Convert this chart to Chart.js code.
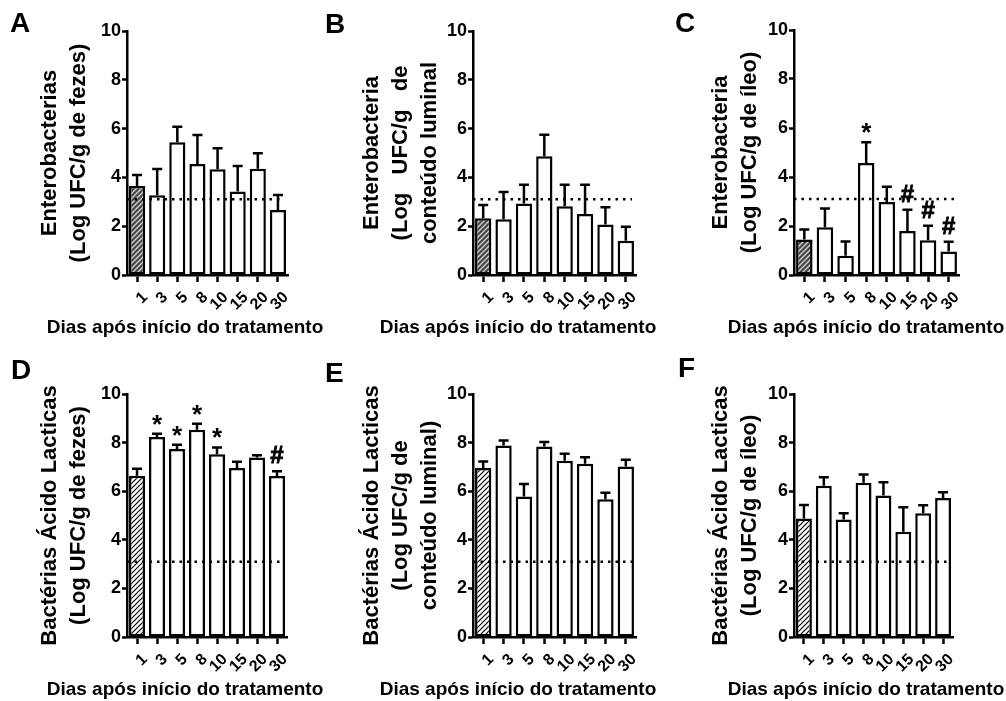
<!DOCTYPE html>
<html>
<head>
<meta charset="utf-8">
<script src="https://cdn.jsdelivr.net/npm/chart.js@4.4.0/dist/chart.umd.min.js"></script>
<style>
  html, body { margin: 0; padding: 0; background: #fff; }
  #wrap { position: relative; width: 1006px; height: 701px; }
  #wrap canvas { position: absolute; left: 0; top: 0; width: 1006px; height: 701px; }
</style>
</head>
<body>
<div id="wrap">
  <canvas id="cA" width="1006" height="701"></canvas>
  <canvas id="cB" width="1006" height="701"></canvas>
  <canvas id="cC" width="1006" height="701"></canvas>
  <canvas id="cD" width="1006" height="701"></canvas>
  <canvas id="cE" width="1006" height="701"></canvas>
  <canvas id="cF" width="1006" height="701"></canvas>
</div>
<script>
// days after start of treatment
const days = ['1', '3', '5', '8', '10', '15', '20', '30'];
const yTicks = [0, 2, 4, 6, 8, 10];
const detectionLimit = 3.1;

// Enterobacteria - feces / luminal content / ileum (mean and SEM)
const entFezes = [3.65, 3.27, 5.44, 4.55, 4.33, 3.42, 4.35, 2.66];
const entFezesSem = [0.45, 1.07, 0.64, 1.19, 0.86, 1.05, 0.64, 0.62];
const entLuminal = [2.33, 2.28, 2.93, 4.87, 2.82, 2.50, 2.07, 1.40];
const entLuminalSem = [0.54, 1.12, 0.77, 0.88, 0.88, 1.20, 0.71, 0.58];
const entIleo = [1.45, 1.95, 0.79, 4.57, 2.98, 1.80, 1.42, 0.96];
const entIleoSem = [0.41, 0.76, 0.58, 0.85, 0.62, 0.86, 0.59, 0.40];

// lactic acid bacteria
const labFezes = [6.64, 8.23, 7.74, 8.53, 7.52, 6.95, 7.39, 6.63];
const labFezesSem = [0.28, 0.13, 0.17, 0.25, 0.28, 0.26, 0.09, 0.19];
const labLuminal = [6.95, 7.88, 5.78, 7.84, 7.25, 7.13, 5.67, 7.02];
const labLuminalSem = [0.27, 0.21, 0.52, 0.18, 0.29, 0.27, 0.27, 0.27];
const labIleo = [4.88, 6.22, 4.84, 6.35, 5.82, 4.33, 5.09, 5.72];
const labIleoSem = [0.55, 0.35, 0.25, 0.34, 0.55, 1.01, 0.33, 0.24];

// significance marks
const marksC = ['', '', '', '*', '', '#', '#', '#'];
const marksD = ['', '*', '*', '*', '*', '', '', '#'];
const noMarks = ['', '', '', '', '', '', '', ''];

const FONT = "'Liberation Sans', Arial, sans-serif";
const xTitle = 'Dias após início do tratamento';

function hatch(bg, fg, w) {
  const c = document.createElement('canvas');
  c.width = 5; c.height = 5;
  const g = c.getContext('2d');
  g.fillStyle = bg;
  g.fillRect(0, 0, 5, 5);
  g.strokeStyle = fg;
  g.lineWidth = w;
  g.beginPath();
  g.moveTo(-1, 6); g.lineTo(6, -1);
  g.moveTo(-1, 1); g.lineTo(1, -1);
  g.moveTo(4, 6); g.lineTo(6, 4);
  g.stroke();
  return g.createPattern(c, 'repeat');
}

function deco(p) {
  return {
    id: 'deco',
    afterDatasetsDraw(chart) {
      const ctx = chart.ctx;
      const y = chart.scales.y;
      const area = chart.chartArea;
      const bars = chart.getDatasetMeta(0).data;
      ctx.save();
      // error bars (upper only)
      ctx.strokeStyle = '#000';
      ctx.lineWidth = 2.5;
      bars.forEach((bar, i) => {
        const top = y.getPixelForValue(p.values[i] + p.sem[i]);
        ctx.beginPath();
        ctx.moveTo(bar.x, bar.y);
        ctx.lineTo(bar.x, top);
        ctx.moveTo(bar.x - 5, top);
        ctx.lineTo(bar.x + 5, top);
        ctx.stroke();
      });
      // detection limit
      const ly = y.getPixelForValue(detectionLimit);
      ctx.setLineDash([2.5, 5]);
      ctx.beginPath();
      ctx.moveTo(area.left, ly);
      ctx.lineTo(area.right - 4, ly);
      ctx.stroke();
      ctx.setLineDash([]);
      // marks
      ctx.fillStyle = '#000';
      ctx.strokeStyle = '#000';
      ctx.lineWidth = 0.8;
      ctx.textAlign = 'center';
      ctx.textBaseline = 'alphabetic';
      bars.forEach((bar, i) => {
        const m = p.marks[i];
        if (!m) return;
        const top = y.getPixelForValue(p.values[i] + p.sem[i]);
        if (m === '*') {
          ctx.font = 'bold 26px ' + FONT;
          ctx.fillText(m, bar.x, top - 1);
        } else {
          ctx.font = 'bold 24px ' + FONT;
          ctx.fillText(m, bar.x, top - 8);
          ctx.strokeText(m, bar.x, top - 8);
        }
      });
      ctx.restore();
    },
    afterDraw(chart) {
      const ctx = chart.ctx;
      ctx.save();
      ctx.fillStyle = '#000';
      ctx.textBaseline = 'alphabetic';
      ctx.textAlign = 'left';
      ctx.font = 'bold 28px ' + FONT;
      ctx.fillText(p.letter, p.letterX, p.letterY);
      ctx.textAlign = 'center';
      ctx.textBaseline = 'middle';
      ctx.font = 'bold 19px ' + FONT;
      ctx.fillText(xTitle, p.xTitleX, p.xTitleY);
      ctx.restore();
    }
  };
}

function panel(id, p) {
  const ctx = document.getElementById(id).getContext('2d');
  const fill = days.map((d, i) => i === 0 ? p.hatch : '#ffffff');
  return new Chart(ctx, {
    type: 'bar',
    data: {
      labels: days,
      datasets: [{
        data: p.values,
        backgroundColor: fill,
        borderColor: '#000',
        borderWidth: 2.5,
        borderSkipped: false,
        barPercentage: 0.8,
        categoryPercentage: 1
      }]
    },
    options: {
      responsive: false,
      animation: false,
      events: [],
      layout: {
        padding: { left: p.padLeft, top: p.top, right: 1006 - p.right, bottom: 701 - p.bottom - 45 }
      },
      plugins: { legend: { display: false }, tooltip: { enabled: false } },
      scales: {
        x: {
          offset: true,
          grid: { display: true, offset: false, drawOnChartArea: false, drawTicks: true, tickLength: 7, tickColor: '#000', tickWidth: 2.5 },
          border: { display: true, color: '#000', width: 2.5 },
          ticks: {
            autoSkip: false, minRotation: 45, maxRotation: 45, color: '#000', padding: 6, labelOffset: 8,
            font: { family: FONT, size: 16, weight: 'bold' }
          },
          afterFit: s => { s.height = 45; }
        },
        y: {
          min: 0,
          max: 10,
          afterBuildTicks: s => { s.ticks = yTicks.map(v => ({ value: v })); },
          grid: { display: true, drawOnChartArea: false, drawTicks: true, tickLength: 5, tickColor: '#000', tickWidth: 2.5 },
          border: { display: true, color: '#000', width: 2.5 },
          ticks: { color: '#000', padding: 1, font: { family: FONT, size: 18, weight: 'bold' } },
          title: {
            display: true, text: p.yTitle, color: '#000', padding: 0,
            font: { family: FONT, size: 22, weight: 'bold', lineHeight: 1.3 }
          },
          afterFit: s => { s.width = p.left - p.padLeft; }
        }
      }
    },
    plugins: [deco(p)]
  });
}

const darkHatch = hatch('#454545', '#d0d0d0', 1.4);
const lightHatch = hatch('#ffffff', '#000000', 1.2);

panel('cA', {
  values: entFezes, sem: entFezesSem, marks: noMarks, hatch: darkHatch,
  yTitle: ['Enterobacterias', '(Log UFC/g de fezes)'],
  padLeft: 36, left: 127, right: 288, top: 31, bottom: 275,
  letter: 'A', letterX: 10, letterY: 32, xTitleX: 185, xTitleY: 328
});
panel('cB', {
  values: entLuminal, sem: entLuminalSem, marks: noMarks, hatch: darkHatch,
  yTitle: ['Enterobacteria', '(Log   UFC/g   de', 'conteúdo luminal'],
  padLeft: 358, left: 473, right: 636, top: 31, bottom: 275,
  letter: 'B', letterX: 325, letterY: 33, xTitleX: 518, xTitleY: 328
});
panel('cC', {
  values: entIleo, sem: entIleoSem, marks: marksC, hatch: darkHatch,
  yTitle: ['Enterobacteria', '(Log UFC/g de íleo)'],
  padLeft: 707, left: 794, right: 959, top: 30, bottom: 275,
  letter: 'C', letterX: 675, letterY: 32, xTitleX: 866, xTitleY: 328
});
panel('cD', {
  values: labFezes, sem: labFezesSem, marks: marksD, hatch: lightHatch,
  yTitle: ['Bactérias Ácido Lacticas', '(Log UFC/g de fezes)'],
  padLeft: 36, left: 127, right: 287, top: 394, bottom: 637,
  letter: 'D', letterX: 11, letterY: 379, xTitleX: 185, xTitleY: 690
});
panel('cE', {
  values: labLuminal, sem: labLuminalSem, marks: noMarks, hatch: lightHatch,
  yTitle: ['Bactérias Ácido Lacticas', '(Log UFC/g de', 'conteúdo luminal)'],
  padLeft: 358, left: 473, right: 636, top: 394, bottom: 637,
  letter: 'E', letterX: 325, letterY: 382, xTitleX: 518, xTitleY: 690
});
panel('cF', {
  values: labIleo, sem: labIleoSem, marks: noMarks, hatch: lightHatch,
  yTitle: ['Bactérias Ácido Lacticas', '(Log UFC/g de íleo)'],
  padLeft: 707, left: 794, right: 953, top: 394, bottom: 637,
  letter: 'F', letterX: 678, letterY: 377, xTitleX: 866, xTitleY: 690
});
</script>
</body>
</html>
